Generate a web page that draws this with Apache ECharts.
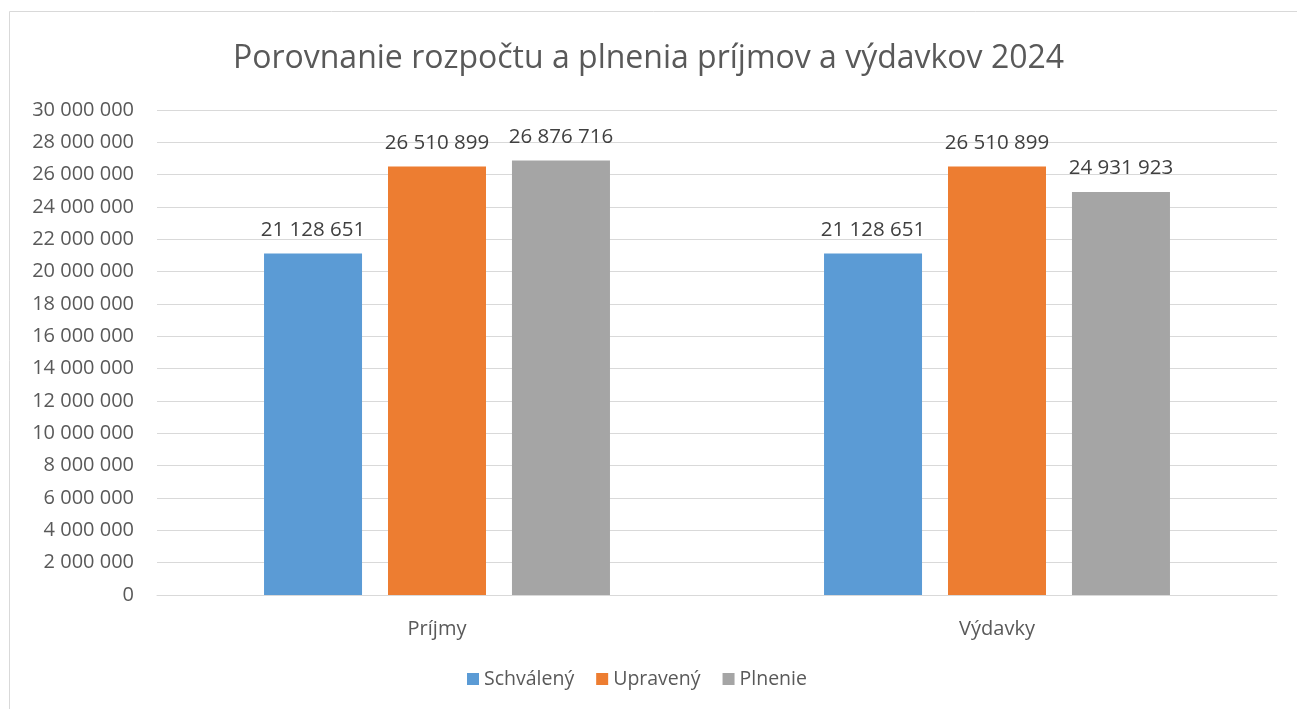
<!DOCTYPE html>
<html>
<head>
    <meta charset="utf-8">
    <title>Porovnanie rozpočtu</title>
    <script src="https://cdn.jsdelivr.net/npm/echarts@6/dist/echarts.min.js"></script>
    <style>
        html, body { margin: 0; padding: 0; background: #fff; }
        #chart { width: 1297px; height: 709px; }
    </style>
</head>
<body>
<div id="chart"></div>
<script>
    // data
    var categories = ['Príjmy', 'Výdavky'];
    var schvaleny = [21128651, 21128651];
    var upraveny = [26510899, 26510899];
    var plnenie = [26876716, 24931923];

    var font = '"Open Sans", "DejaVu Sans", sans-serif';
    var txt = '#595959';

    // 26 876 716 -> with spaces
    function fmt(v) {
        return String(Math.round(v)).replace(/\B(?=(\d{3})+(?!\d))/g, ' ');
    }

    function bar(name, data, color) {
        return {
            name: name,
            type: 'bar',
            data: data,
            barWidth: 98,
            barGap: '26.5%',
            itemStyle: { color: color },
            label: {
                show: true,
                position: 'top',
                distance: 13,
                color: '#404040',
                fontFamily: font,
                fontSize: 20.5,
                formatter: function (p) { return fmt(p.value); }
            }
        };
    }

    var myChart = echarts.init(document.getElementById('chart'));
    myChart.setOption({
        animation: false,
        textStyle: { fontFamily: font },
        graphic: [{
            type: 'rect',
            shape: { x: 9.5, y: 11.5, width: 1300, height: 720 },
            style: { fill: 'none', stroke: '#d9d9d9', lineWidth: 1 },
            silent: true
        }],
        title: {
            text: 'Porovnanie rozpočtu a plnenia príjmov a výdavkov 2024',
            left: 'center',
            top: 38,
            textStyle: { color: txt, fontFamily: font, fontSize: 32, fontWeight: 'normal' }
        },
        legend: {
            data: ['Schválený', 'Upravený', 'Plnenie'],
            bottom: 15,
            left: 462,
            icon: 'rect',
            itemWidth: 12,
            itemHeight: 12,
            itemGap: 22,
            textStyle: { color: txt, fontFamily: font, fontSize: 19.5 }
        },
        grid: { left: 157, right: 20, top: 110, bottom: 114, containLabel: false },
        xAxis: {
            type: 'category',
            data: categories,
            axisLine: { lineStyle: { color: '#d9d9d9' } },
            axisTick: { show: false },
            axisLabel: { color: txt, fontFamily: font, fontSize: 20, margin: 24 }
        },
        yAxis: {
            type: 'value',
            min: 0,
            max: 30000000,
            interval: 2000000,
            axisLine: { show: false },
            axisTick: { show: false },
            splitLine: { lineStyle: { color: '#d9d9d9' } },
            axisLabel: { color: txt, fontFamily: font, fontSize: 20, margin: 23, formatter: fmt }
        },
        series: [
            bar('Schválený', schvaleny, '#5B9BD5'),
            bar('Upravený', upraveny, '#ED7D31'),
            bar('Plnenie', plnenie, '#A5A5A5')
        ]
    });
</script>
</body>
</html>
